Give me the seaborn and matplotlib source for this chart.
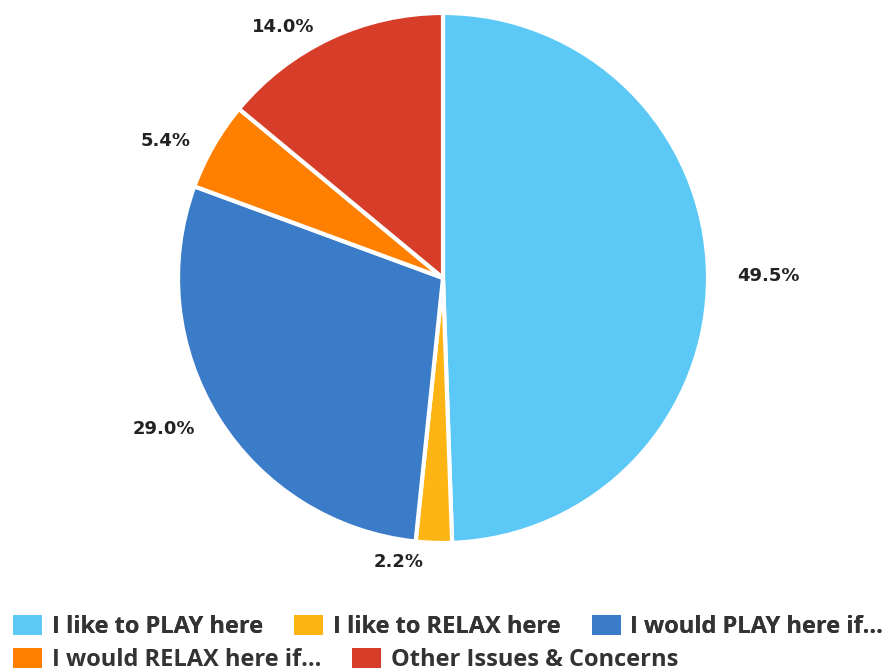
import numpy as np
import matplotlib.pyplot as plt
import seaborn as sns
from matplotlib.patches import Patch

# data
labels = ["I like to PLAY here", "I like to RELAX here", "I would PLAY here if...",
          "I would RELAX here if...", "Other Issues & Concerns"]
values = [49.5, 2.2, 29.0, 5.4, 14.0]
colors = ["#5BC8F5", "#FDB515", "#3B7CC9", "#FF8000", "#D63E2A"]

sns.set_theme(style="white")
plt.rcParams['font.family'] = ['DejaVu Sans']

fig = plt.figure(figsize=(8.83, 6.71), dpi=100)
ax = fig.add_axes([0.2016, 0.1908, 0.6002, 0.7899])

wedges, _ = ax.pie(
    values, colors=colors, startangle=90, counterclock=False,
    wedgeprops=dict(edgecolor="white", linewidth=3),
)
ax.set_aspect("equal")
ax.set_xlim(-1, 1)
ax.set_ylim(-1, 1)
ax.axis("off")

# outside labels: point just past the rim, shifted sideways
for w, v in zip(wedges, values):
    ang = np.deg2rad((w.theta1 + w.theta2) / 2)
    x, y = 1.06 * np.cos(ang), 1.06 * np.sin(ang) - 0.011
    if np.cos(ang) >= 0:
        x, ha = x + 0.05, "left"
    else:
        x, ha = x - 0.035, "right"
    ax.text(x, y, f"{v:.1f}%", ha=ha, va="center", fontsize=13,
            fontweight="bold", color="#222222", clip_on=False)

# legend in two rows, flowing left to right
handles = [Patch(facecolor=c, edgecolor="none") for c in colors]
leg_kw = dict(frameon=False, handlelength=1.23, handleheight=0.97, handletextpad=0.42,
              columnspacing=1.31, borderpad=0, borderaxespad=0,
              prop=dict(family="Open Sans", size=17, weight="bold"), labelcolor="#333333")
leg1 = fig.legend(handles[:3], labels[:3], ncol=3, loc="center left",
                  bbox_to_anchor=(0.0147, 1 - 627 / 671), **leg_kw)
fig.add_artist(leg1)
fig.legend(handles[3:], labels[3:], ncol=2, loc="center left",
           bbox_to_anchor=(0.0147, 1 - 660 / 671), **leg_kw)

plt.savefig("out.png", dpi=100)
